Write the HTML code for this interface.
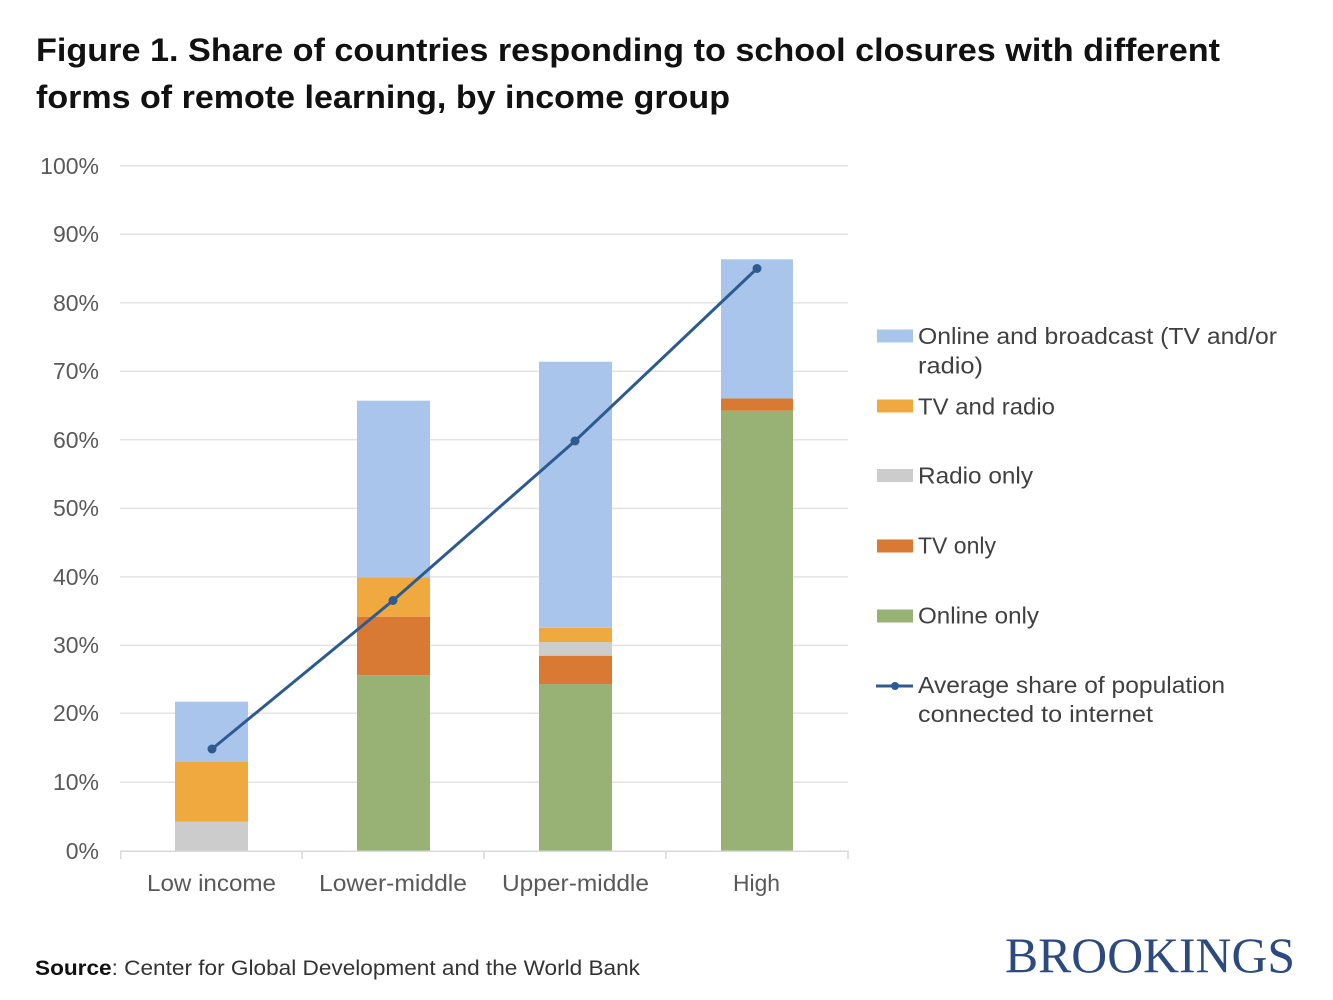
<!DOCTYPE html>
<html>
<head>
<meta charset="utf-8">
<style>
html,body{margin:0;padding:0;background:#fff;}
svg{display:block;}
text{font-family:"Liberation Sans",Arial,sans-serif;}
text.serif{font-family:"Liberation Serif","Times New Roman",serif;}
</style>
</head>
<body>
<svg width="1333" height="1000" viewBox="0 0 1333 1000" xmlns="http://www.w3.org/2000/svg">
<rect width="1333" height="1000" fill="#fff"/>
<!-- Title -->
<text x="36" y="61" font-size="32" font-weight="bold" fill="#111" textLength="1184" lengthAdjust="spacingAndGlyphs">Figure 1. Share of countries responding to school closures with different</text>
<text x="36" y="108" font-size="32" font-weight="bold" fill="#111" textLength="694" lengthAdjust="spacingAndGlyphs">forms of remote learning, by income group</text>

<!-- Gridlines -->
<g stroke="#e3e3e3" stroke-width="1.5">
<line x1="120" x2="848" y1="165.7" y2="165.7"/>
<line x1="120" x2="848" y1="234.2" y2="234.2"/>
<line x1="120" x2="848" y1="302.8" y2="302.8"/>
<line x1="120" x2="848" y1="371.3" y2="371.3"/>
<line x1="120" x2="848" y1="439.8" y2="439.8"/>
<line x1="120" x2="848" y1="508.4" y2="508.4"/>
<line x1="120" x2="848" y1="576.9" y2="576.9"/>
<line x1="120" x2="848" y1="645.4" y2="645.4"/>
<line x1="120" x2="848" y1="713.3" y2="713.3"/>
<line x1="120" x2="848" y1="782.3" y2="782.3"/>
</g>

<!-- Y labels -->
<g font-size="23" fill="#595959" text-anchor="end">
<text x="99" y="174">100%</text>
<text x="99" y="242">90%</text>
<text x="99" y="311">80%</text>
<text x="99" y="379">70%</text>
<text x="99" y="448">60%</text>
<text x="99" y="516">50%</text>
<text x="99" y="585">40%</text>
<text x="99" y="653">30%</text>
<text x="99" y="721">20%</text>
<text x="99" y="790">10%</text>
<text x="99" y="859">0%</text>
</g>

<!-- Bars: Low income -->
<rect x="175" y="821.7" width="73" height="29.3" fill="#cccccc"/>
<rect x="175" y="762" width="73" height="59.7" fill="#f0a93f"/>
<rect x="175" y="701.7" width="73" height="60.3" fill="#aac5ec"/>
<!-- Lower-middle -->
<rect x="357" y="675.3" width="73" height="175.7" fill="#98b276"/>
<rect x="357" y="616.7" width="73" height="58.6" fill="#d87a33"/>
<rect x="357" y="577.3" width="73" height="39.4" fill="#f0a93f"/>
<rect x="357" y="400.7" width="73" height="176.6" fill="#aac5ec"/>
<!-- Upper-middle -->
<rect x="539" y="684" width="73" height="167" fill="#98b276"/>
<rect x="539" y="655.7" width="73" height="28.3" fill="#d87a33"/>
<rect x="539" y="642" width="73" height="13.7" fill="#cccccc"/>
<rect x="539" y="627.7" width="73" height="14.3" fill="#f0a93f"/>
<rect x="539" y="361.7" width="73" height="266" fill="#aac5ec"/>
<!-- High -->
<rect x="721" y="410.7" width="72" height="440.3" fill="#98b276"/>
<rect x="721" y="398.3" width="72" height="12.4" fill="#d87a33"/>
<rect x="721" y="259.3" width="72" height="139" fill="#aac5ec"/>

<!-- Axis -->
<g stroke="#d9d9d9" stroke-width="1.5">
<line x1="120" x2="848.5" y1="851.3" y2="851.3"/>
<line x1="120.7" x2="120.7" y1="851" y2="859"/>
<line x1="302" x2="302" y1="851" y2="859"/>
<line x1="484" x2="484" y1="851" y2="859"/>
<line x1="666" x2="666" y1="851" y2="859"/>
<line x1="848" x2="848" y1="851" y2="859"/>
</g>

<!-- Line series -->
<polyline points="212,749 393,600.5 575,441 757,268.5" fill="none" stroke="#2e5b8f" stroke-width="3"/>
<g fill="#2e5b8f">
<circle cx="212" cy="749" r="4.5"/>
<circle cx="393" cy="600.5" r="4.5"/>
<circle cx="575" cy="441" r="4.5"/>
<circle cx="757" cy="268.5" r="4.5"/>
</g>

<!-- Category labels -->
<g font-size="23" fill="#595959">
<text x="147" y="891" textLength="129" lengthAdjust="spacingAndGlyphs">Low income</text>
<text x="319" y="891" textLength="148" lengthAdjust="spacingAndGlyphs">Lower-middle</text>
<text x="502" y="891" textLength="147" lengthAdjust="spacingAndGlyphs">Upper-middle</text>
<text x="733" y="891" textLength="47" lengthAdjust="spacingAndGlyphs">High</text>
</g>

<!-- Legend -->
<rect x="877" y="329.5" width="36" height="13" fill="#aac5ec"/>
<rect x="877" y="399.5" width="36" height="13" fill="#f0a93f"/>
<rect x="877" y="469" width="36" height="13" fill="#cccccc"/>
<rect x="877" y="539.5" width="36" height="13" fill="#d87a33"/>
<rect x="877" y="609.5" width="36" height="13" fill="#98b276"/>
<line x1="876" x2="913" y1="686" y2="686" stroke="#2e5b8f" stroke-width="3"/>
<circle cx="895" cy="686" r="4" fill="#2e5b8f"/>
<g font-size="23" fill="#404040">
<text x="918" y="344" textLength="359" lengthAdjust="spacingAndGlyphs">Online and broadcast (TV and/or</text>
<text x="918" y="373.5" textLength="65" lengthAdjust="spacingAndGlyphs">radio)</text>
<text x="918" y="414.5" textLength="137" lengthAdjust="spacingAndGlyphs">TV and radio</text>
<text x="918" y="483.5" textLength="115" lengthAdjust="spacingAndGlyphs">Radio only</text>
<text x="918" y="553.5" textLength="78" lengthAdjust="spacingAndGlyphs">TV only</text>
<text x="918" y="623.5" textLength="121" lengthAdjust="spacingAndGlyphs">Online only</text>
<text x="918" y="693" textLength="307" lengthAdjust="spacingAndGlyphs">Average share of population</text>
<text x="918" y="722" textLength="235" lengthAdjust="spacingAndGlyphs">connected to internet</text>
</g>

<!-- Source -->
<text x="35" y="975" font-size="21" fill="#333" textLength="605" lengthAdjust="spacingAndGlyphs"><tspan font-weight="bold" fill="#111">Source</tspan>: Center for Global Development and the World Bank</text>

<!-- Brookings -->
<text class="serif" x="1005" y="972" style="font-family:'Liberation Serif','Times New Roman',serif" font-size="50" fill="#2c4a7e" textLength="290" lengthAdjust="spacingAndGlyphs">BROOKINGS</text>
</svg>
</body>
</html>
